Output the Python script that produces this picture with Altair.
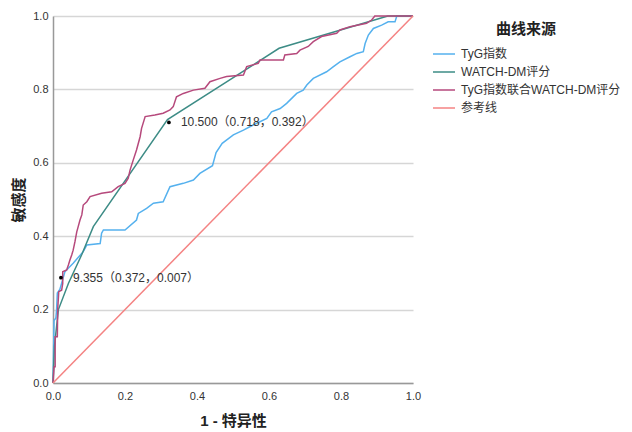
import altair as alt
import pandas as pd

series_names = ["TyG指数", "WATCH-DM评分", "TyG指数联合WATCH-DM评分", "参考线"]
series_colors = ["#55b1ee", "#3d8c86", "#b6497c", "#f48383"]

tyg_x = [0, 0.003, 0.008, 0.01, 0.012, 0.019, 0.024, 0.033, 0.056, 0.084, 0.094, 0.131, 0.135, 0.14,
         0.2, 0.232, 0.237, 0.26, 0.279, 0.306, 0.325, 0.362, 0.39, 0.408, 0.443, 0.453, 0.47, 0.501,
         0.529, 0.556, 0.594, 0.607, 0.631, 0.649, 0.677, 0.695, 0.705, 0.723, 0.76, 0.779, 0.797,
         0.825, 0.844, 0.862, 0.867, 0.876, 0.89, 0.913, 0.931, 0.95, 0.955, 1.0]
tyg_y = [0, 0.17, 0.177, 0.2, 0.245, 0.255, 0.272, 0.303, 0.326, 0.358, 0.376, 0.38, 0.408, 0.417,
         0.417, 0.444, 0.462, 0.476, 0.49, 0.494, 0.535, 0.544, 0.553, 0.571, 0.592, 0.628, 0.653, 0.676,
         0.689, 0.703, 0.721, 0.739, 0.748, 0.762, 0.789, 0.798, 0.812, 0.83, 0.848, 0.862, 0.875,
         0.889, 0.898, 0.903, 0.925, 0.948, 0.966, 0.975, 0.984, 0.984, 1.0, 1.0]

watch_x = [0, 0.004, 0.015, 0.043, 0.08, 0.112, 0.318, 0.628, 0.93, 1.0]
watch_y = [0, 0.1, 0.2, 0.272, 0.35, 0.426, 0.718, 0.912, 1.0, 1.0]

combo_x = [0, 0.003, 0.006, 0.006, 0.012, 0.013, 0.016, 0.024, 0.027, 0.027, 0.038, 0.043, 0.047,
           0.052, 0.056, 0.061, 0.066, 0.07, 0.075, 0.08, 0.084, 0.094, 0.103, 0.135, 0.163, 0.181,
           0.2, 0.209, 0.214, 0.223, 0.232, 0.242, 0.246, 0.256, 0.283, 0.306, 0.325, 0.334, 0.343,
           0.362, 0.39, 0.422, 0.436, 0.464, 0.482, 0.529, 0.538, 0.57, 0.575, 0.64, 0.644, 0.677,
           0.686, 0.709, 0.723, 0.746, 0.788, 0.797, 0.825, 0.871, 0.885, 0.894, 1.0]
combo_y = [0, 0.044, 0.044, 0.126, 0.126, 0.2, 0.249, 0.253, 0.271, 0.303, 0.308, 0.322, 0.335,
           0.349, 0.362, 0.385, 0.412, 0.426, 0.444, 0.458, 0.485, 0.494, 0.508, 0.517, 0.521, 0.535,
           0.544, 0.558, 0.58, 0.608, 0.635, 0.671, 0.694, 0.726, 0.73, 0.735, 0.744, 0.753, 0.78,
           0.789, 0.798, 0.803, 0.821, 0.83, 0.835, 0.839, 0.862, 0.871, 0.88, 0.88, 0.894, 0.898,
           0.907, 0.917, 0.93, 0.944, 0.953, 0.962, 0.971, 0.98, 0.989, 1.0, 1.0]

ref_x = [0, 1]
ref_y = [0, 1]

cut_x = [0.322, 0.022]
cut_y = [0.71, 0.287]
cut_labels = ["10.500（0.718，0.392）", "9.355（0.372，0.007）"]

rows = []
for name, xs, ys in zip(series_names, [tyg_x, watch_x, combo_x, ref_x], [tyg_y, watch_y, combo_y, ref_y]):
    for i, (xv, yv) in enumerate(zip(xs, ys)):
        rows.append({"series": name, "x": xv, "y": yv, "idx": i})
df = pd.DataFrame(rows)
cuts = pd.DataFrame({"x": cut_x, "y": cut_y, "label": cut_labels})

FONT = "Liberation Sans, Noto Sans CJK SC, sans-serif"

xenc = alt.X("x:Q", scale=alt.Scale(domain=[0, 1], nice=False),
             axis=alt.Axis(title="1 - 特异性", values=[0, 0.2, 0.4, 0.6, 0.8, 1.0], format=".1f",
                           grid=False, ticks=False, labelFlush=False, labelPadding=7, titlePadding=12))
yenc = alt.Y("y:Q", scale=alt.Scale(domain=[0, 1], nice=False),
             axis=alt.Axis(title="敏感度", values=[0, 0.2, 0.4, 0.6, 0.8, 1.0], format=".1f",
                           grid=True, ticks=False, labelFlush=False, labelPadding=5, titlePadding=6))

lines = alt.Chart(df).mark_line(strokeWidth=1.5).encode(
    x=xenc,
    y=yenc,
    color=alt.Color("series:N", scale=alt.Scale(domain=series_names, range=series_colors),
                    legend=alt.Legend(title="曲线来源", orient="none", legendX=379, legendY=6,
                                      symbolType="stroke", symbolSize=484, symbolStrokeWidth=1.5,
                                      titleFontSize=15, titleFontWeight="bold", titleColor="#222",
                                      titleAnchor="middle", titlePadding=5, labelFontSize=12,
                                      labelColor="#333", labelOffset=5, rowPadding=-5, labelLimit=300)),
    order="idx:Q",
)

dots = alt.Chart(cuts).mark_circle(size=14, color="black", opacity=1).encode(x="x:Q", y="y:Q")
texts = alt.Chart(cuts).mark_text(align="left", dx=12, fontSize=12, color="#333", font=FONT).encode(
    x="x:Q", y="y:Q", text="label:N")

chart = alt.layer(lines, dots, texts).properties(
    width=360, height=367,
    autosize="none",
    padding={"left": 45, "top": 8, "right": 211, "bottom": 48},
).configure_view(stroke=None).configure_axis(
    labelFont=FONT, titleFont=FONT, labelFontSize=11, labelColor="#333",
    titleFontSize=15, titleFontWeight="bold", titleColor="#222",
    domainColor="#999", domainWidth=1.5, gridColor="#d6d6d6", gridWidth=1.5,
).configure_legend(labelFont=FONT, titleFont=FONT)

chart.save("out.html", embed_options={"renderer": "svg", "actions": False})
